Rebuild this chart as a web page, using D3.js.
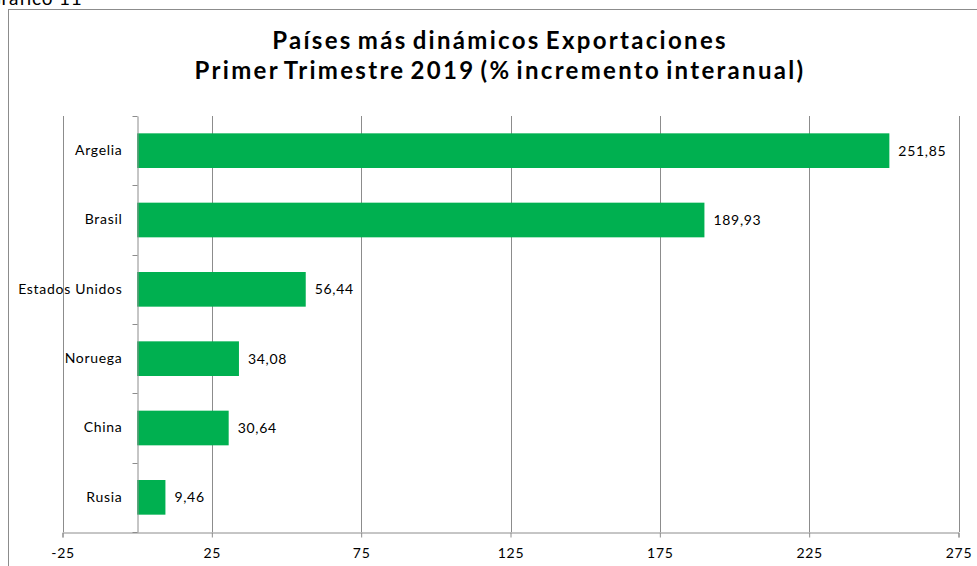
<!DOCTYPE html>
<html>
<head>
<meta charset="utf-8">
<script src="https://cdn.jsdelivr.net/npm/d3@7"></script>
<style>
  body { margin: 0; background: #fff; overflow: hidden; }
  text { font-family: Lato, "Noto Sans", sans-serif; fill: #000; }
</style>
</head>
<body>
<div id="chart"></div>
<script>
// data
let paises = ["Argelia", "Brasil", "Estados Unidos", "Noruega", "China", "Rusia"]
let incremento = [251.85, 189.93, 56.44, 34.08, 30.64, 9.46]
let ticks_x = [-25, 25, 75, 125, 175, 225, 275]
let titulo = ["Países más dinámicos Exportaciones", "Primer Trimestre 2019 (% incremento interanual)"]

let width = 977, height = 566
let margin = {left: 62.5, right: 18.5, top: 116, bottom: 34}

let svg = d3.select("#chart")
    .append("svg")
        .attr("width", width)
        .attr("height", height)

// caption cut off at the top edge, as in the source image
svg.append("text")
    .attr("x", -13)
    .attr("y", 5)
    .style("font-size", "19px")
    .style("letter-spacing", "0.8px")
    .text("Gráfico 11")

// chart frame (extends past the window)
svg.append("rect")
    .attr("x", 8.5).attr("y", 9.5)
    .attr("width", 1000).attr("height", 600)
    .attr("fill", "none")
    .attr("stroke", "#8c8c8c")
    .attr("stroke-width", 1)

//title
let title = svg.append("text")
    .attr("text-anchor", "middle")
    .style("font-size", "24px")
    .style("font-weight", "bold")
    .style("letter-spacing", "2.3px")
    .style("word-spacing", "-3px")
titulo.forEach(function(t, i) {
    title.append("tspan")
        .attr("x", 500)
        .attr("y", 49 + i * 29.5)
        .text(t)
})

let x = d3.scaleLinear()
    .domain([-25, 275])
    .range([margin.left, width - margin.right])

let y = d3.scaleBand()
    .domain(paises)
    .range([margin.top, height - margin.bottom])
    .paddingInner(0.5)
    .paddingOuter(0.25)

let g = svg.append("g")

// vertical gridlines
g.selectAll("line.grid")
    .data(ticks_x)
    .enter()
    .append("line")
        .attr("class", "grid")
        .attr("x1", d => Math.round(x(d)) + 0.5)
        .attr("x2", d => Math.round(x(d)) + 0.5)
        .attr("y1", margin.top)
        .attr("y2", height - margin.bottom)
        .attr("stroke", "#8c8c8c")

// x axis
let xAxis = g.append("g")
    .attr("transform", `translate(0, ${height - margin.bottom + 0.5})`)
    .call(d3.axisBottom(x).tickValues(ticks_x).tickSize(5).tickPadding(11).tickFormat(d3.format("d")))
xAxis.select(".domain").attr("stroke", "#8c8c8c")
xAxis.selectAll(".tick line").attr("stroke", "#8c8c8c")
xAxis.selectAll("text")
    .style("font-size", "14px")
    .style("letter-spacing", "0.7px")
    .attr("fill", "#000")
    .text(d => String(d))

// bars
g.selectAll("rect.bar")
    .data(incremento)
    .enter()
    .append("rect")
        .attr("class", "bar")
        .attr("x", x(0))
        .attr("y", (d, i) => y(paises[i]))
        .attr("width", d => x(d) - x(0))
        .attr("height", y.bandwidth())
        .attr("fill", "#00b050")

// value labels
g.selectAll("text.val")
    .data(incremento)
    .enter()
    .append("text")
        .attr("class", "val")
        .attr("x", d => x(d) + 9)
        .attr("y", (d, i) => y(paises[i]) + y.bandwidth() / 2)
        .attr("dy", "0.35em")
        .style("font-size", "14px")
        .style("letter-spacing", "0.7px")
        .text(d => d3.format(".2f")(d).replace(".", ","))

// category axis at zero
let yAxis = g.append("g")
    .attr("transform", `translate(${Math.round(x(0)) + 0.5}, 0)`)
    .call(d3.axisLeft(y).tickSize(0).tickPadding(15))
yAxis.select(".domain").attr("stroke", "#8c8c8c")
yAxis.selectAll("text")
    .style("font-size", "14px")
    .style("letter-spacing", "0.7px")
    .attr("fill", "#000")

// tick marks between categories
let bounds = d3.range(paises.length + 1).map(i => margin.top + i * y.step())
g.selectAll("line.ytick")
    .data(bounds)
    .enter()
    .append("line")
        .attr("x1", Math.round(x(0)) + 0.5 - 5)
        .attr("x2", Math.round(x(0)) + 0.5)
        .attr("y1", d => Math.round(d) + 0.5)
        .attr("y2", d => Math.round(d) + 0.5)
        .attr("stroke", "#8c8c8c")
</script>
</body>
</html>
